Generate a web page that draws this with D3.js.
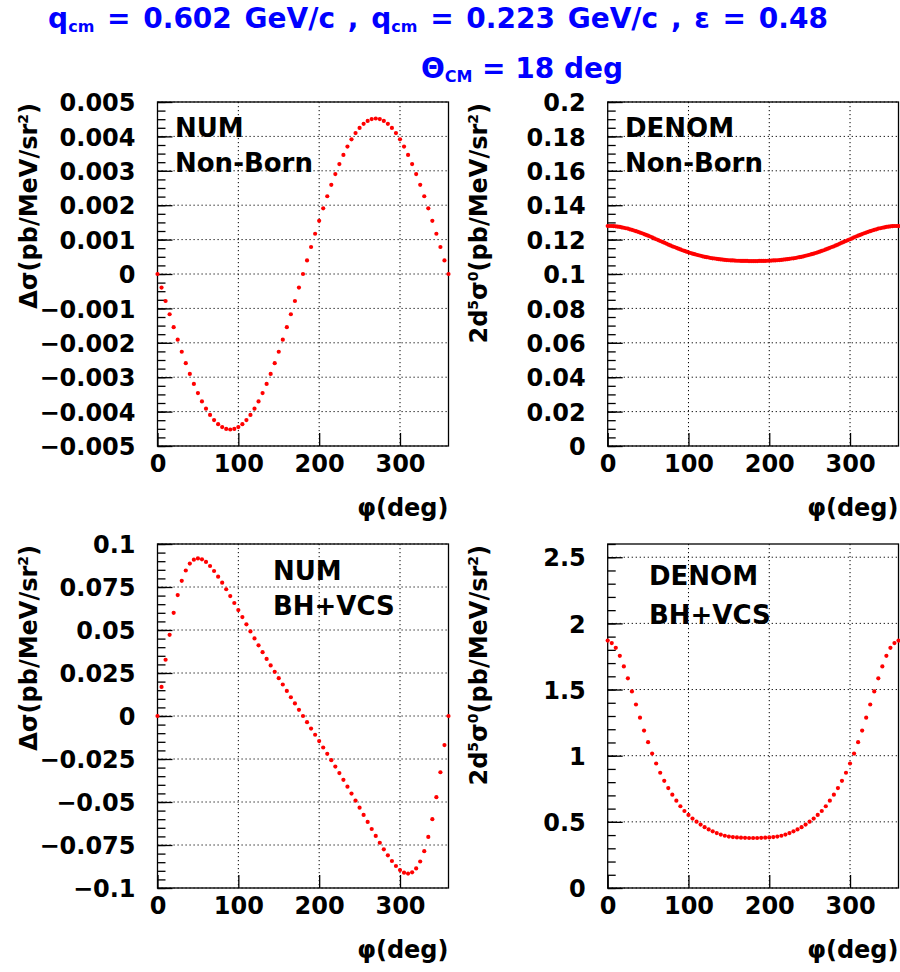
<!DOCTYPE html>
<html><head><meta charset="utf-8">
<script src="https://cdn.jsdelivr.net/npm/d3@7"></script>
<style>body{margin:0;background:#fff} svg{display:block}</style>
</head><body><svg id="c" width="900" height="972"></svg>
<script>
// ---------- data ----------
const phi5 = d3.range(0, 361, 5);      // 73 samples, 5 deg step
const phi25 = d3.range(0, 360.01, 2.5); // 145 samples, 2.5 deg step

const numNonBorn = [
 0, -0.000394, -0.000785, -0.00117, -0.001546, -0.00191, -0.00226, -0.002593, -0.002905, -0.003196,
 -0.003462, -0.003703, -0.003914, -0.004096, -0.004247, -0.004366, -0.004451, -0.004503, -0.00452,
 -0.004503, -0.004451, -0.004366, -0.004247, -0.004096, -0.003914, -0.003703, -0.003462, -0.003196,
 -0.002905, -0.002593, -0.00226, -0.00191, -0.001546, -0.00117, -0.000785, -0.000394, 0,
 0.000394, 0.000785, 0.00117, 0.001546, 0.00191, 0.00226, 0.002593, 0.002905, 0.003196, 0.003462,
 0.003703, 0.003914, 0.004096, 0.004247, 0.004366, 0.004451, 0.004503, 0.00452,
 0.004503, 0.004451, 0.004366, 0.004247, 0.004096, 0.003914, 0.003703, 0.003462, 0.003196, 0.002905,
 0.002593, 0.00226, 0.00191, 0.001546, 0.00117, 0.000785, 0.000394, 0
];

const denomNonBorn = [
 0.1279, 0.1279, 0.1279, 0.1278, 0.1277, 0.1275, 0.1274, 0.1271, 0.1269, 0.1266,
 0.1264, 0.1260, 0.1257, 0.1253, 0.1249, 0.1245, 0.1241, 0.1237, 0.1232, 0.1227,
 0.1223, 0.1218, 0.1213, 0.1207, 0.1202, 0.1197, 0.1192, 0.1187, 0.1182, 0.1177,
 0.1171, 0.1166, 0.1161, 0.1157, 0.1152, 0.1147, 0.1143, 0.1138, 0.1134, 0.1130,
 0.1126, 0.1122, 0.1119, 0.1115, 0.1112, 0.1109, 0.1106, 0.1103, 0.1100, 0.1098,
 0.1096, 0.1093, 0.1091, 0.1090, 0.1088, 0.1086, 0.1085, 0.1084, 0.1082, 0.1081,
 0.1080, 0.1079, 0.1079, 0.1078, 0.1077, 0.1077, 0.1076, 0.1076, 0.1076, 0.1076,
 0.1075, 0.1075, 0.1075,
 0.1075, 0.1075, 0.1076, 0.1076, 0.1076, 0.1076, 0.1077, 0.1077, 0.1078, 0.1079,
 0.1079, 0.1080, 0.1081, 0.1082, 0.1084, 0.1085, 0.1086, 0.1088, 0.1090, 0.1091,
 0.1093, 0.1096, 0.1098, 0.1100, 0.1103, 0.1106, 0.1109, 0.1112, 0.1115, 0.1119,
 0.1122, 0.1126, 0.1130, 0.1134, 0.1138, 0.1143, 0.1147, 0.1152, 0.1157, 0.1161,
 0.1166, 0.1171, 0.1177, 0.1182, 0.1187, 0.1192, 0.1197, 0.1202, 0.1207, 0.1213,
 0.1218, 0.1223, 0.1227, 0.1232, 0.1237, 0.1241, 0.1245, 0.1249, 0.1253, 0.1257,
 0.1260, 0.1264, 0.1266, 0.1269, 0.1271, 0.1274, 0.1275, 0.1277, 0.1278, 0.1279,
 0.1279, 0.1279
];

const numBHVCS = [
 0, 0.0169, 0.0327, 0.0472, 0.0600, 0.0703, 0.0786, 0.0846, 0.0886, 0.0909,
 0.0916, 0.0911, 0.0896, 0.0872, 0.0843, 0.0810, 0.0775, 0.0737, 0.0697, 0.0657,
 0.0616, 0.0575, 0.0533, 0.0492, 0.0451, 0.0411, 0.0371, 0.0332, 0.0294, 0.0257,
 0.0220, 0.0183, 0.0146, 0.0109, 0.0073, 0.0036, 0,
 -0.0036, -0.0073, -0.0109, -0.0146, -0.0183, -0.0220, -0.0257, -0.0294, -0.0332, -0.0371,
 -0.0411, -0.0451, -0.0492, -0.0533, -0.0575, -0.0616, -0.0657, -0.0697, -0.0737, -0.0775,
 -0.0810, -0.0843, -0.0872, -0.0896, -0.0911, -0.0916, -0.0909, -0.0886, -0.0846, -0.0786,
 -0.0703, -0.0600, -0.0472, -0.0327, -0.0169, 0
];

const denomBHVCS = [
 1.870, 1.851, 1.815, 1.755, 1.675, 1.585, 1.486, 1.387, 1.287, 1.190,
 1.102, 1.016, 0.941, 0.871, 0.810, 0.755, 0.705, 0.660, 0.618, 0.582,
 0.552, 0.525, 0.501, 0.479, 0.460, 0.443, 0.428, 0.415, 0.404, 0.395,
 0.389, 0.385, 0.382, 0.380, 0.379, 0.378, 0.378,
 0.378, 0.379, 0.380, 0.382, 0.385, 0.389, 0.395, 0.404, 0.415, 0.428,
 0.443, 0.460, 0.479, 0.501, 0.525, 0.552, 0.582, 0.618, 0.660, 0.705,
 0.755, 0.810, 0.871, 0.941, 1.016, 1.102, 1.190, 1.287, 1.387, 1.486,
 1.585, 1.675, 1.755, 1.815, 1.851, 1.870
];

const xTicks = [0, 100, 200, 300];
const xTickLabels = ["0", "100", "200", "300"];

const yTicks1 = [-0.005,-0.004,-0.003,-0.002,-0.001,0,0.001,0.002,0.003,0.004,0.005];
const yLabels1 = ["\u22120.005","\u22120.004","\u22120.003","\u22120.002","\u22120.001","0","0.001","0.002","0.003","0.004","0.005"];
const yTicks2 = [0,0.02,0.04,0.06,0.08,0.1,0.12,0.14,0.16,0.18,0.2];
const yLabels2 = ["0","0.02","0.04","0.06","0.08","0.1","0.12","0.14","0.16","0.18","0.2"];
const yTicks3 = [-0.1,-0.075,-0.05,-0.025,0,0.025,0.05,0.075,0.1];
const yLabels3 = ["\u22120.1","\u22120.075","\u22120.05","\u22120.025","0","0.025","0.05","0.075","0.1"];
const yTicks4 = [0,0.5,1,1.5,2,2.5];
const yLabels4 = ["0","0.5","1","1.5","2","2.5"];

// ---------- drawing ----------
const svg = d3.select('#c');
const FONT = "'DejaVu Sans', sans-serif";
const FS = 24;

const titleNum = [["\u0394\u03c3(pb/MeV/sr",0],["2",1],[")",0]];
const titleDen = [["2d",0],["5",1],["\u03c3",0],["0",1],["(pb/MeV/sr",0],["2",1],[")",0]];

const panels = [
 {px:[157.5,448.5], py:[102,446], dom:[-0.005,0.005], ticks:yTicks1, labels:yLabels1, minor:0.00025,
  xs:phi5, ys:numNonBorn, title:titleNum, titleX:37, t1:"NUM", t2:"Non-Born", tx:175, ty:[137,172]},
 {px:[607.7,898.5], py:[102,446], dom:[0,0.2], ticks:yTicks2, labels:yLabels2, minor:0.005,
  xs:phi25, ys:denomNonBorn, title:titleDen, titleX:487, t1:"DENOM", t2:"Non-Born", tx:625, ty:[137,172]},
 {px:[157.5,448.5], py:[544,888], dom:[-0.1,0.1], ticks:yTicks3, labels:yLabels3, minor:0.005,
  xs:phi5, ys:numBHVCS, title:titleNum, titleX:37, t1:"NUM", t2:"BH+VCS", tx:273, ty:[580,615]},
 {px:[607.7,898.5], py:[544,888], dom:[0,2.6], ticks:yTicks4, labels:yLabels4, minor:0.1,
  xs:phi5, ys:denomBHVCS, title:titleDen, titleX:487, t1:"DENOM", t2:"BH+VCS", tx:649, ty:[585,624]}
];

panels.forEach(p => {
  const x = d3.scaleLinear().domain([0,360]).range(p.px);
  const y = d3.scaleLinear().domain(p.dom).range([p.py[1], p.py[0]]);
  const g = svg.append('g');
  const H = p.py[1]-p.py[0], W = p.px[1]-p.px[0];

  // grid
  g.append('g').selectAll('line').data(xTicks.filter(t => t > 0)).join('line')
    .attr('x1', d => x(d)).attr('x2', d => x(d)).attr('y1', p.py[0]).attr('y2', p.py[1])
    .attr('stroke', '#000').attr('stroke-width', 1).attr('stroke-dasharray', '1.2,2.8');
  g.append('g').selectAll('line').data(p.ticks).join('line')
    .attr('x1', p.px[0]).attr('x2', p.px[1]).attr('y1', d => y(d)).attr('y2', d => y(d))
    .attr('stroke', '#000').attr('stroke-width', 1).attr('stroke-dasharray', '1.2,2.8');

  // frame
  g.append('rect').attr('x', p.px[0]).attr('y', p.py[0]).attr('width', W).attr('height', H)
    .attr('fill', 'none').attr('stroke', '#000').attr('stroke-width', 1.3);

  // minor y ticks
  const minors = d3.range(p.dom[0], p.dom[1] + p.minor/2, p.minor);
  g.append('g').attr('transform', `translate(${p.px[0]},0)`)
    .call(d3.axisLeft(y).tickValues(minors).tickSize(-8).tickFormat(''))
    .call(s => s.select('.domain').remove())
    .selectAll('line').attr('stroke-width', 1.3);

  // major y axis
  const ya = g.append('g').attr('transform', `translate(${p.px[0]},0)`)
    .call(d3.axisLeft(y).tickValues(p.ticks).tickSize(-15).tickPadding(22)
      .tickFormat((d,i) => p.labels[i]));
  ya.select('.domain').remove();
  ya.selectAll('line').attr('stroke-width', 1.3);
  ya.selectAll('text').attr('font-family', FONT).attr('font-weight', 'bold')
    .attr('font-size', FS).attr('fill', '#000').attr('dy', '0.36em');

  // x axis
  const xa = g.append('g').attr('transform', `translate(0,${p.py[1]})`)
    .call(d3.axisBottom(x).tickValues(xTicks).tickSize(-13).tickPadding(9)
      .tickFormat((d,i) => xTickLabels[i]));
  xa.select('.domain').remove();
  xa.selectAll('line').attr('stroke-width', 1.3);
  xa.selectAll('text').attr('font-family', FONT).attr('font-weight', 'bold')
    .attr('font-size', FS).attr('fill', '#000');

  // x title
  g.append('text').attr('x', p.px[1]).attr('y', p.py[1] + 69.5).attr('text-anchor', 'end')
    .attr('font-family', FONT).attr('font-weight', 'bold').attr('font-size', FS)
    .text('\u03c6(deg)');

  // y title
  const yt = g.append('text')
    .attr('transform', `translate(${p.titleX},${p.py[0]+1}) rotate(-90)`)
    .attr('text-anchor', 'end').attr('font-family', FONT).attr('font-weight', 'bold')
    .attr('font-size', FS);
  let raised = false;
  p.title.forEach(([t, sup]) => {
    const ts = yt.append('tspan').text(t);
    if (sup && !raised) { ts.attr('dy', -9).attr('font-size', 14); raised = true; }
    else if (!sup && raised) { ts.attr('dy', 9); raised = false; }
    else if (sup) ts.attr('font-size', 14);
  });

  // inner labels
  [p.t1, p.t2].forEach((t, i) => {
    g.append('text').attr('x', p.tx).attr('y', p.ty[i])
      .attr('font-family', FONT).attr('font-weight', 'bold').attr('font-size', 26)
      .attr('fill', '#000').text(t);
  });

  // points
  g.append('g').selectAll('circle').data(p.ys).join('circle')
    .attr('cx', (d,i) => x(p.xs[i])).attr('cy', d => y(d)).attr('r', 2.1)
    .attr('fill', '#ff0000');
});

// ---------- header ----------
const TFS = 28;
const t1 = svg.append('text').attr('x', 438).attr('y', 28).attr('text-anchor', 'middle')
  .attr('font-family', FONT).attr('font-weight', 'bold').attr('font-size', TFS).attr('fill', '#0000ff')
  .attr('word-spacing', 3);
t1.append('tspan').text('q');
t1.append('tspan').attr('font-size', 16).attr('dy', 4).text('cm');
t1.append('tspan').attr('dy', -4).text(' = 0.602 GeV/c , q');
t1.append('tspan').attr('font-size', 16).attr('dy', 4).text('cm');
t1.append('tspan').attr('dy', -4).text(' = 0.223 GeV/c , \u03b5 = 0.48');

const t2 = svg.append('text').attr('x', 522).attr('y', 78).attr('text-anchor', 'middle')
  .attr('font-family', FONT).attr('font-weight', 'bold').attr('font-size', TFS).attr('fill', '#0000ff');
t2.append('tspan').text('\u0398');
t2.append('tspan').attr('font-size', 16).attr('dy', 4).text('CM');
t2.append('tspan').attr('dy', -4).text(' = 18 deg');
</script>
</body></html>
